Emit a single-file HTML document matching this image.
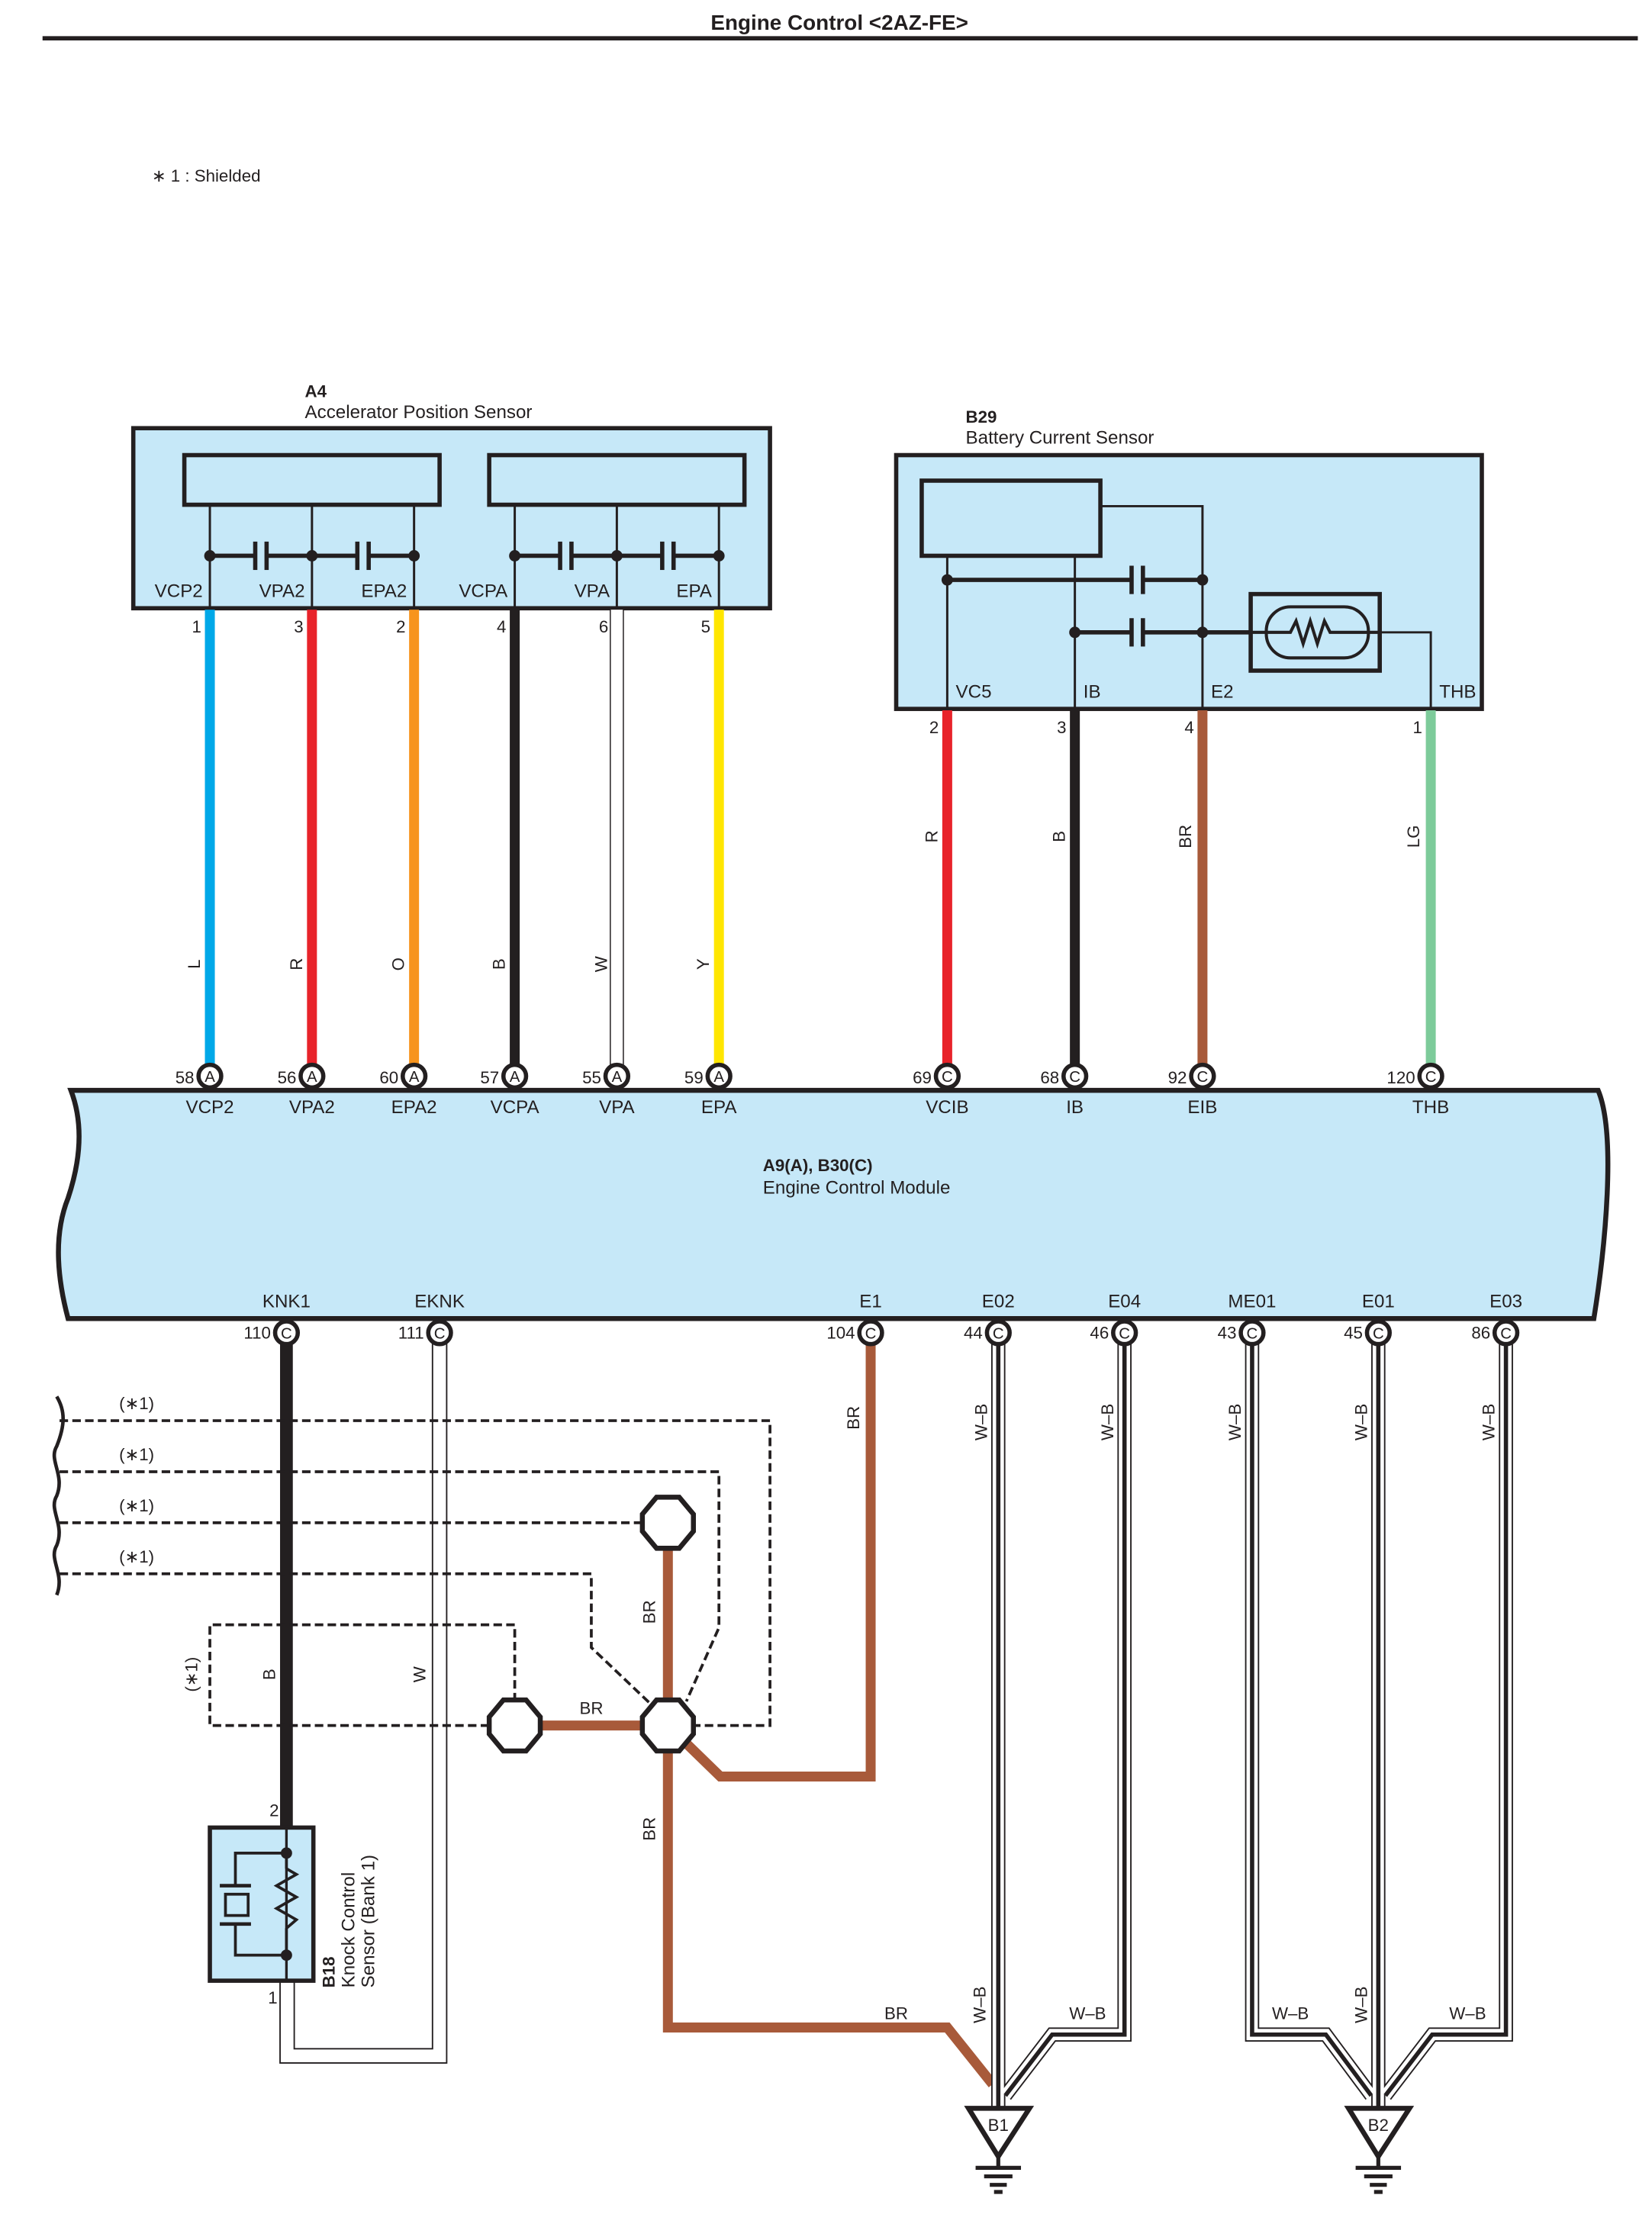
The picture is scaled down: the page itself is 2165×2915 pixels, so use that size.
<!DOCTYPE html>
<html><head><meta charset="utf-8"><style>
html,body{margin:0;padding:0;background:#fff}
svg{display:block}
text{font-family:"Liberation Sans",sans-serif;fill:#231f20}
</style></head><body>
<svg width="2165" height="2915" viewBox="0 0 1165 1568.6" preserveAspectRatio="none" xmlns="http://www.w3.org/2000/svg">
<defs>
<g id="cap"><line x1="-4" y1="-10" x2="-4" y2="10" stroke="#231f20" stroke-width="3"/><line x1="4" y1="-10" x2="4" y2="10" stroke="#231f20" stroke-width="3"/></g>
</defs>
<!-- title -->
<text x="592" y="21" font-size="15" font-weight="bold" text-anchor="middle">Engine Control &lt;2AZ-FE&gt;</text>
<line x1="30" y1="27" x2="1155" y2="27" stroke="#231f20" stroke-width="3"/>
<text x="107" y="128" font-size="12">∗ 1 : Shielded</text>

<!-- A4 -->
<text x="215" y="280" font-size="12" font-weight="bold">A4</text>
<text x="215" y="295" font-size="13">Accelerator Position Sensor</text>
<rect x="94" y="302" width="449" height="127" fill="#c6e8f8" stroke="#231f20" stroke-width="3"/>
<rect x="130" y="321" width="180" height="35" fill="#c6e8f8" stroke="#231f20" stroke-width="3"/>
<rect x="345" y="321" width="180" height="35" fill="#c6e8f8" stroke="#231f20" stroke-width="3"/>
<g stroke="#231f20" stroke-width="1.6">
<line x1="148" y1="356" x2="148" y2="429"/><line x1="220" y1="356" x2="220" y2="429"/><line x1="292" y1="356" x2="292" y2="429"/>
<line x1="363" y1="356" x2="363" y2="429"/><line x1="435" y1="356" x2="435" y2="429"/><line x1="507" y1="356" x2="507" y2="429"/>
</g>
<g stroke="#231f20" stroke-width="3">
<line x1="148" y1="392" x2="180" y2="392"/><line x1="188" y1="392" x2="252" y2="392"/><line x1="260" y1="392" x2="292" y2="392"/>
<line x1="363" y1="392" x2="395" y2="392"/><line x1="403" y1="392" x2="467" y2="392"/><line x1="475" y1="392" x2="507" y2="392"/>
</g>
<use href="#cap" x="184" y="392"/><use href="#cap" x="256" y="392"/><use href="#cap" x="399" y="392"/><use href="#cap" x="471" y="392"/>
<g fill="#231f20"><circle cx="148" cy="392" r="4"/><circle cx="220" cy="392" r="4"/><circle cx="292" cy="392" r="4"/><circle cx="363" cy="392" r="4"/><circle cx="435" cy="392" r="4"/><circle cx="507" cy="392" r="4"/></g>
<g font-size="13" text-anchor="end">
<text x="143" y="421">VCP2</text><text x="215" y="421">VPA2</text><text x="287" y="421">EPA2</text>
<text x="358" y="421">VCPA</text><text x="430" y="421">VPA</text><text x="502" y="421">EPA</text>
</g>
<!-- A4 wires -->
<line x1="148" y1="430" x2="148" y2="752" stroke="#00a8e8" stroke-width="7"/>
<line x1="220" y1="430" x2="220" y2="752" stroke="#e8232a" stroke-width="7"/>
<line x1="292" y1="430" x2="292" y2="752" stroke="#f7941d" stroke-width="7"/>
<line x1="363" y1="430" x2="363" y2="752" stroke="#231f20" stroke-width="7"/>
<line x1="435" y1="430" x2="435" y2="752" stroke="#231f20" stroke-width="10"/>
<line x1="435" y1="430" x2="435" y2="752" stroke="#fff" stroke-width="8.4"/>
<line x1="507" y1="430" x2="507" y2="752" stroke="#ffe600" stroke-width="7"/>
<g font-size="12" text-anchor="end">
<text x="142" y="446">1</text><text x="214" y="446">3</text><text x="286" y="446">2</text><text x="357" y="446">4</text><text x="429" y="446">6</text><text x="501" y="446">5</text>
</g>
<g font-size="12" text-anchor="middle">
<text transform="translate(141,680) rotate(-90)">L</text>
<text transform="translate(213,680) rotate(-90)">R</text>
<text transform="translate(285,680) rotate(-90)">O</text>
<text transform="translate(356,680) rotate(-90)">B</text>
<text transform="translate(428,680) rotate(-90)">W</text>
<text transform="translate(500,680) rotate(-90)">Y</text>
</g>

<!-- B29 -->
<text x="681" y="298" font-size="12" font-weight="bold">B29</text>
<text x="681" y="313" font-size="13">Battery Current Sensor</text>
<rect x="632" y="321" width="413" height="179" fill="#c6e8f8" stroke="#231f20" stroke-width="3"/>
<rect x="650" y="339" width="126" height="53" fill="#c6e8f8" stroke="#231f20" stroke-width="3"/>
<g stroke="#231f20" stroke-width="1.6" fill="none">
<polyline points="776,357 848,357 848,500"/>
<line x1="668" y1="392" x2="668" y2="500"/>
<line x1="758" y1="392" x2="758" y2="500"/>
<polyline points="973,446 1009,446 1009,500"/>
</g>
<g stroke="#231f20" stroke-width="3">
<line x1="668" y1="409" x2="798" y2="409"/><line x1="806" y1="409" x2="848" y2="409"/>
<line x1="758" y1="446" x2="798" y2="446"/><line x1="806" y1="446" x2="882" y2="446"/>
</g>
<use href="#cap" x="802" y="409"/><use href="#cap" x="802" y="446"/>
<g fill="#231f20"><circle cx="668" cy="409" r="4"/><circle cx="848" cy="409" r="4"/><circle cx="758" cy="446" r="4"/><circle cx="848" cy="446" r="4"/></g>
<rect x="882" y="419" width="91" height="54" fill="#c6e8f8" stroke="#231f20" stroke-width="3"/>
<rect x="893" y="428" width="72" height="36" rx="17" fill="none" stroke="#231f20" stroke-width="2.2"/>
<polyline points="882,446 910,446 914,438 919,454 924,438 929,454 934,438 938,446 973,446" fill="none" stroke="#231f20" stroke-width="2.2"/>
<g font-size="13">
<text x="674" y="492">VC5</text><text x="764" y="492">IB</text><text x="854" y="492">E2</text><text x="1015" y="492">THB</text>
</g>
<line x1="668" y1="501" x2="668" y2="752" stroke="#e8232a" stroke-width="7"/>
<line x1="758" y1="501" x2="758" y2="752" stroke="#231f20" stroke-width="7"/>
<line x1="848" y1="501" x2="848" y2="752" stroke="#a85a3a" stroke-width="7"/>
<line x1="1009" y1="501" x2="1009" y2="752" stroke="#7dcb9a" stroke-width="7"/>
<g font-size="12" text-anchor="end">
<text x="662" y="517">2</text><text x="752" y="517">3</text><text x="842" y="517">4</text><text x="1003" y="517">1</text>
</g>
<g font-size="12" text-anchor="middle">
<text transform="translate(661,590) rotate(-90)">R</text>
<text transform="translate(751,590) rotate(-90)">B</text>
<text transform="translate(840,590) rotate(-90)">BR</text>
<text transform="translate(1001,590) rotate(-90)">LG</text>
</g>

<!-- ECM -->
<path d="M50,769 L1127,769 C1140,800 1132,880 1124,930 L48,930 C40,900 38,870 48,845 C58,815 58,790 50,769 Z" fill="#c6e8f8" stroke="#231f20" stroke-width="3.5"/>
<text x="538" y="826" font-size="12" font-weight="bold">A9(A), B30(C)</text>
<text x="538" y="842" font-size="13">Engine Control Module</text>
<g font-size="13" text-anchor="middle">
<text x="148" y="785">VCP2</text><text x="220" y="785">VPA2</text><text x="292" y="785">EPA2</text><text x="363" y="785">VCPA</text><text x="435" y="785">VPA</text><text x="507" y="785">EPA</text>
<text x="668" y="785">VCIB</text><text x="758" y="785">IB</text><text x="848" y="785">EIB</text><text x="1009" y="785">THB</text>
<text x="202" y="922">KNK1</text><text x="310" y="922">EKNK</text><text x="614" y="922">E1</text><text x="704" y="922">E02</text><text x="793" y="922">E04</text><text x="883" y="922">ME01</text><text x="972" y="922">E01</text><text x="1062" y="922">E03</text>
</g>

<!-- bottom wires -->
<line x1="202" y1="945" x2="202" y2="1290" stroke="#231f20" stroke-width="9"/>
<polyline points="197.5,1397 197.5,1455 315,1455 315,945" fill="none" stroke="#231f20" stroke-width="1"/>
<polyline points="207.5,1397 207.5,1445 305,1445 305,945" fill="none" stroke="#231f20" stroke-width="1"/>

<!-- BR wires -->
<g fill="none" stroke="#a85a3a" stroke-width="7" stroke-linejoin="miter">
<polyline points="614,945 614,1253 508,1253 471,1217"/>
<polyline points="471,1090 471,1430 668,1430 700,1470"/>
<line x1="381" y1="1217" x2="453" y2="1217"/>
</g>

<!-- W-B wires -->
<g fill="none" stroke-linejoin="miter">
<g stroke="#231f20" stroke-width="10">
<polyline points="704,945 704,1487"/><polyline points="793,945 793,1435 742,1435 709,1478"/>
<polyline points="883,945 883,1435 935,1435 967,1478"/><polyline points="972,945 972,1487"/>
<polyline points="1062,945 1062,1435 1010,1435 977,1478"/>
</g>
<g stroke="#fff" stroke-width="8">
<polyline points="704,945 704,1487"/><polyline points="793,945 793,1435 742,1435 709,1478"/>
<polyline points="883,945 883,1435 935,1435 967,1478"/><polyline points="972,945 972,1487"/>
<polyline points="1062,945 1062,1435 1010,1435 977,1478"/>
</g>
<g stroke="#231f20" stroke-width="3">
<polyline points="704,945 704,1487"/><polyline points="793,945 793,1435 742,1435 709,1478"/>
<polyline points="883,945 883,1435 935,1435 967,1478"/><polyline points="972,945 972,1487"/>
<polyline points="1062,945 1062,1435 1010,1435 977,1478"/>
</g>
</g>
<g font-size="12" text-anchor="middle">
<text transform="translate(606,1000) rotate(-90)">BR</text>
<text transform="translate(696,1003) rotate(-90)">W–B</text>
<text transform="translate(785,1003) rotate(-90)">W–B</text>
<text transform="translate(875,1003) rotate(-90)">W–B</text>
<text transform="translate(964,1003) rotate(-90)">W–B</text>
<text transform="translate(1054,1003) rotate(-90)">W–B</text>
<text transform="translate(462,1137) rotate(-90)">BR</text>
<text transform="translate(462,1290) rotate(-90)">BR</text>
<text transform="translate(194,1181) rotate(-90)">B</text>
<text transform="translate(300,1181) rotate(-90)">W</text>
<text transform="translate(139,1181) rotate(-90)">(∗1)</text>
<text transform="translate(695,1414) rotate(-90)">W–B</text>
<text transform="translate(964,1414) rotate(-90)">W–B</text>
<text x="417" y="1209">BR</text>
<text x="632" y="1424">BR</text>
<text x="767" y="1424">W–B</text>
<text x="910" y="1424">W–B</text>
<text x="1035" y="1424">W–B</text>
</g>

<!-- shield dashed -->
<g fill="none" stroke="#231f20" stroke-width="2" stroke-dasharray="6,3">
<polyline points="42,1002 543,1002 543,1217 490,1217"/>
<polyline points="42,1038 507,1038 507,1148 484,1200"/>
<polyline points="42,1074 453,1074"/>
<polyline points="42,1110 417,1110 417,1162 458,1201"/>
<polyline points="345,1217 148,1217 148,1146 363,1146 363,1199"/>
</g>
<path d="M40,985 C46,995 46,1005 40,1020 C34,1030 46,1040 40,1055 C34,1065 46,1075 40,1090 C34,1100 46,1110 40,1125" fill="none" stroke="#231f20" stroke-width="2.5"/>
<g font-size="12"><text x="84" y="994">(∗1)</text><text x="84" y="1030">(∗1)</text><text x="84" y="1066">(∗1)</text><text x="84" y="1102">(∗1)</text></g>

<!-- splices -->
<g fill="#fff" stroke="#231f20" stroke-width="3.5">
<polygon points="463,1056 479,1056 489,1068 489,1080 479,1092 463,1092 453,1080 453,1068"/>
<polygon points="355,1199 371,1199 381,1211 381,1223 371,1235 355,1235 345,1223 345,1211"/>
<polygon points="463,1199 479,1199 489,1211 489,1223 479,1235 463,1235 453,1223 453,1211"/>
</g>

<!-- knock sensor -->
<rect x="148" y="1289" width="73" height="108" fill="#c6e8f8" stroke="#231f20" stroke-width="3"/>
<line x1="202" y1="1289" x2="202" y2="1397" stroke="#231f20" stroke-width="1.8"/>
<polyline points="202,1307 166,1307 166,1330" fill="none" stroke="#231f20" stroke-width="2"/>
<polyline points="202,1379 166,1379 166,1357" fill="none" stroke="#231f20" stroke-width="2"/>
<line x1="155" y1="1330" x2="177" y2="1330" stroke="#231f20" stroke-width="2.5"/>
<line x1="155" y1="1357" x2="177" y2="1357" stroke="#231f20" stroke-width="2.5"/>
<rect x="159" y="1336" width="16" height="15" fill="none" stroke="#231f20" stroke-width="2"/>
<polyline points="202,1318 209,1322 195,1330 209,1338 195,1346 209,1354 202,1360" fill="none" stroke="#231f20" stroke-width="2"/>
<rect x="200" y="1315" width="0" height="0"/>
<line x1="202" y1="1307" x2="202" y2="1318" stroke="#231f20" stroke-width="2"/>
<line x1="202" y1="1360" x2="202" y2="1379" stroke="#231f20" stroke-width="2"/>
<g fill="#231f20"><circle cx="202" cy="1307" r="4"/><circle cx="202" cy="1379" r="4"/></g>
<text x="190" y="1281" font-size="12">2</text>
<text x="189" y="1413" font-size="12">1</text>
<text transform="translate(236,1402) rotate(-90)" font-size="12" font-weight="bold">B18</text>
<text transform="translate(250,1402) rotate(-90)" font-size="13">Knock Control</text>
<text transform="translate(264,1402) rotate(-90)" font-size="13">Sensor (Bank 1)</text>

<!-- connectors -->
<g stroke="#231f20" stroke-width="3" fill="#fff">
<circle cx="148" cy="759" r="8"/><circle cx="220" cy="759" r="8"/><circle cx="292" cy="759" r="8"/><circle cx="363" cy="759" r="8"/><circle cx="435" cy="759" r="8"/><circle cx="507" cy="759" r="8"/>
<circle cx="668" cy="759" r="8"/><circle cx="758" cy="759" r="8"/><circle cx="848" cy="759" r="8"/><circle cx="1009" cy="759" r="8"/>
<circle cx="202" cy="940" r="8"/><circle cx="310" cy="940" r="8"/><circle cx="614" cy="940" r="8"/><circle cx="704" cy="940" r="8"/><circle cx="793" cy="940" r="8"/><circle cx="883" cy="940" r="8"/><circle cx="972" cy="940" r="8"/><circle cx="1062" cy="940" r="8"/>
</g>
<g font-size="11" text-anchor="middle">
<text x="148" y="763">A</text><text x="220" y="763">A</text><text x="292" y="763">A</text><text x="363" y="763">A</text><text x="435" y="763">A</text><text x="507" y="763">A</text>
<text x="668" y="763">C</text><text x="758" y="763">C</text><text x="848" y="763">C</text><text x="1009" y="763">C</text>
<text x="202" y="944">C</text><text x="310" y="944">C</text><text x="614" y="944">C</text><text x="704" y="944">C</text><text x="793" y="944">C</text><text x="883" y="944">C</text><text x="972" y="944">C</text><text x="1062" y="944">C</text>
</g>
<g font-size="12" text-anchor="end">
<text x="137" y="764">58</text><text x="209" y="764">56</text><text x="281" y="764">60</text><text x="352" y="764">57</text><text x="424" y="764">55</text><text x="496" y="764">59</text>
<text x="657" y="764">69</text><text x="747" y="764">68</text><text x="837" y="764">92</text><text x="998" y="764">120</text>
<text x="191" y="944">110</text><text x="299" y="944">111</text><text x="603" y="944">104</text><text x="693" y="944">44</text><text x="782" y="944">46</text><text x="872" y="944">43</text><text x="961" y="944">45</text><text x="1051" y="944">86</text>
</g>

<!-- grounds -->
<g stroke="#231f20" stroke-width="3.5" fill="#fff" stroke-linejoin="miter">
<polygon points="683,1487 726,1487 704,1521"/>
<polygon points="951,1487 994,1487 972,1521"/>
</g>
<g stroke="#231f20" stroke-width="2.8">
<line x1="704" y1="1521" x2="704" y2="1529"/><line x1="688" y1="1529" x2="720" y2="1529"/><line x1="694" y1="1535" x2="714" y2="1535"/><line x1="698" y1="1541" x2="710" y2="1541"/><line x1="701" y1="1546" x2="707" y2="1546"/>
<line x1="972" y1="1521" x2="972" y2="1529"/><line x1="956" y1="1529" x2="988" y2="1529"/><line x1="962" y1="1535" x2="982" y2="1535"/><line x1="966" y1="1541" x2="978" y2="1541"/><line x1="969" y1="1546" x2="975" y2="1546"/>
</g>
<g font-size="12" text-anchor="middle"><text x="704" y="1503">B1</text><text x="972" y="1503">B2</text></g>
</svg>
</body></html>
